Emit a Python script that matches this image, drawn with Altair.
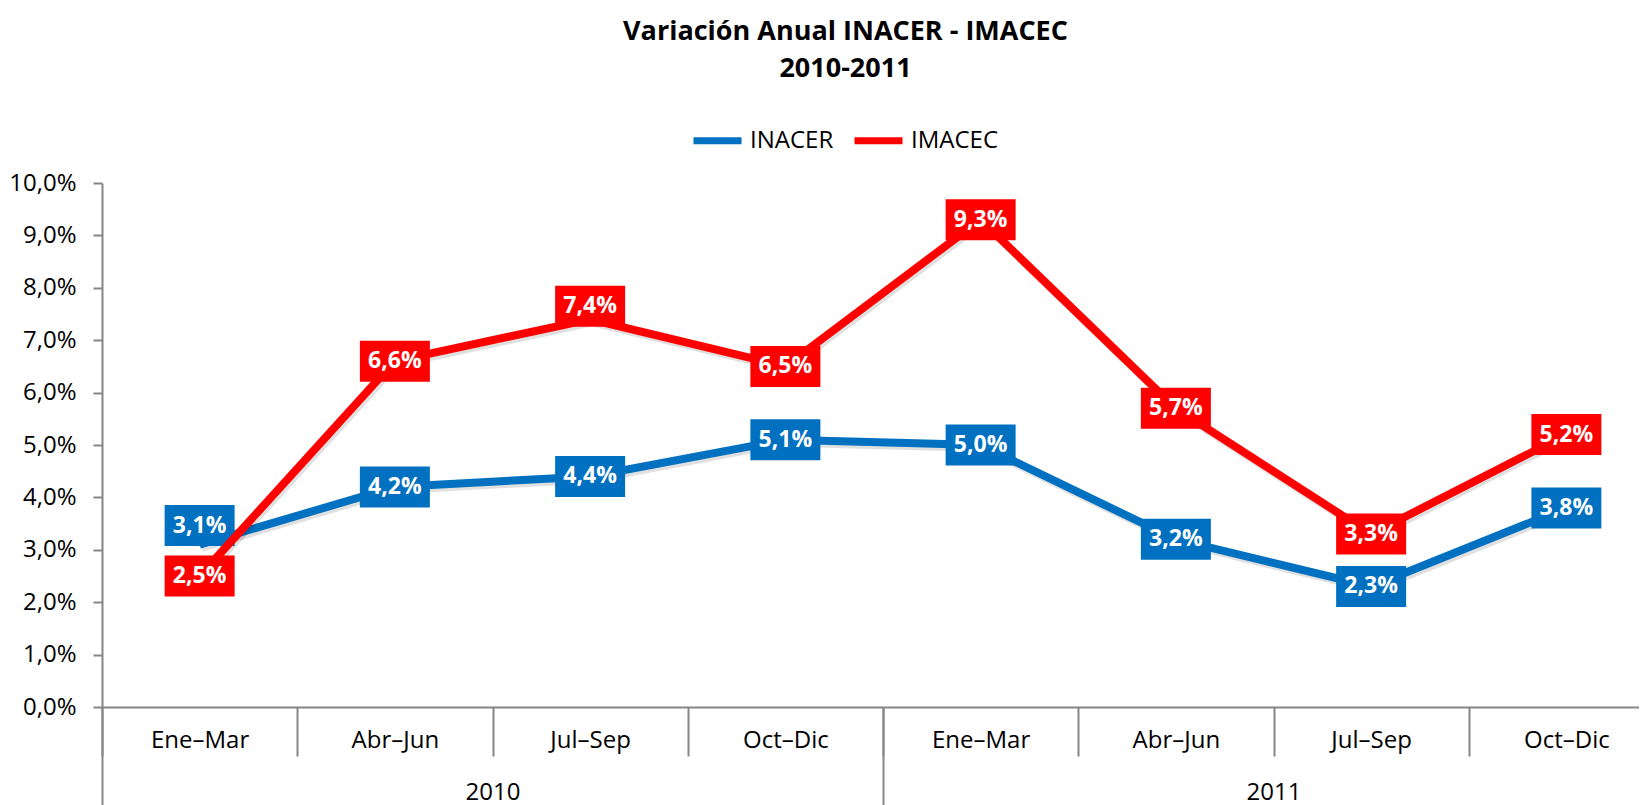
import altair as alt
import pandas as pd

# ---------------- data ----------------
quarters = ["Ene–Mar", "Abr–Jun", "Jul–Sep", "Oct–Dic",
            "Ene–Mar", "Abr–Jun", "Jul–Sep", "Oct–Dic"]
years = ["2010", "2010", "2010", "2010", "2011", "2011", "2011", "2011"]
year_list = ["2010", "2011"]
inacer = [3.1, 4.2, 4.4, 5.1, 5.0, 3.2, 2.3, 3.8]
imacec = [2.5, 6.6, 7.4, 6.5, 9.3, 5.7, 3.3, 5.2]
series_names = ["INACER", "IMACEC"]
series_colors = ["#0070C0", "#FF0000"]
y_ticks = [0, 1, 2, 3, 4, 5, 6, 7, 8, 9, 10]

keys = [f"{y} {q}" for y, q in zip(years, quarters)]
rows = []
for name, vals in zip(series_names, [inacer, imacec]):
    for k, yr, q, v in zip(keys, years, quarters, vals):
        rows.append(dict(key=k, year=yr, quarter=q, series=name, value=v,
                         label=f"{v:.1f}".replace(".", ",") + "%"))
df = pd.DataFrame(rows)

# ---------------- layout ----------------
W, H = 1537, 524
XR = 1562
GRAY = "#868686"
FONT = "Open Sans"
BOX = "M-1,-0.5857L1,-0.5857L1,0.5857L-1,0.5857Z"

# label nudges (series, key) -> pixel dy
nudges = {("INACER", "2010 Ene–Mar"): -19, ("IMACEC", "2010 Jul–Sep"): -13}

x_enc = alt.X(
    "key:N",
    bandPosition=0.5,
    scale=alt.Scale(type="band", domain=keys, range=[0, XR], paddingInner=0, paddingOuter=0),
    axis=alt.Axis(
        orient="bottom", title=None, tickBand="extent", tickSize=49, tickWidth=2,
        tickColor=GRAY, domainColor=GRAY, domainWidth=2, grid=False,
        labelExpr="split(datum.label, ' ')[1]", labelFont=FONT, labelFontSize=24,
        labelColor="black", labelPadding=-16, labelBaseline="middle", labelAngle=0,
        labelOverlap=False,
    ),
)
y_enc = alt.Y(
    "value:Q",
    scale=alt.Scale(domain=[0, 10], nice=False, zero=True),
    axis=alt.Axis(
        values=y_ticks, title=None, grid=False, tickSize=9, tickWidth=2, tickColor=GRAY,
        domainColor=GRAY, domainWidth=2, labelFont=FONT, labelFontSize=24,
        labelColor="black", labelPadding=17,
        labelExpr="replace(format(datum.value, '.1f'), '.', ',') + '%'",
    ),
)
color_enc = alt.Color(
    "series:N",
    scale=alt.Scale(domain=series_names, range=series_colors),
    legend=alt.Legend(
        orient="none", legendX=588, legendY=-70, direction="horizontal", title=None,
        symbolType="stroke", symbolStrokeWidth=7, symbolSize=2304,
        labelFont=FONT, labelFontSize=24, labelColor="black", labelOffset=5,
        columnPadding=6,
    ),
)

base = alt.Chart(df)
layers = []
for name, col in zip(series_names, series_colors):
    s = base.transform_filter(alt.datum.series == name)
    layers.append(
        s.mark_line(strokeWidth=8, color="#000000", opacity=0.12, xOffset=2, yOffset=3)
        .encode(x=x_enc, y=y_enc, detail="series:N")
    )
    layers.append(s.mark_line(strokeWidth=8).encode(x=x_enc, y=y_enc, color=color_enc))
    nudged = [k for (sn, k) in nudges if sn == name]
    plain = s.transform_filter(~alt.FieldOneOfPredicate(field="key", oneOf=nudged)) if nudged else s
    layers.append(
        plain.mark_point(shape=BOX, size=4900, filled=True, opacity=1, color=col, strokeWidth=0)
        .encode(x=x_enc, y=y_enc)
    )
    layers.append(
        plain.mark_text(font=FONT, fontWeight="bold", fontSize=23, color="white",
                        baseline="middle", align="center")
        .encode(x=x_enc, y=y_enc, text="label:N")
    )
    for k in nudged:
        dy = nudges[(name, k)]
        one = s.transform_filter(alt.datum.key == k)
        layers.append(
            one.mark_point(shape=BOX, size=4900, filled=True, opacity=1, color=col,
                           strokeWidth=0, yOffset=dy)
            .encode(x=x_enc, y=y_enc)
        )
        layers.append(
            one.mark_text(font=FONT, fontWeight="bold", fontSize=23, color="white",
                          baseline="middle", align="center", dy=dy)
            .encode(x=x_enc, y=y_enc, text="label:N")
        )

main = alt.layer(*layers)

year_layer = alt.Chart(df).mark_point(opacity=0).encode(
    x=alt.X(
        "year:N",
        scale=alt.Scale(type="band", domain=year_list, range=[0, XR], paddingInner=0, paddingOuter=0),
        axis=alt.Axis(
            orient="bottom", title=None, tickBand="extent", tickSize=110, tickWidth=2,
            tickColor=GRAY, domain=False, grid=False, labelFont=FONT, labelFontSize=24,
            labelColor="black", labelPadding=-25, labelBaseline="middle", labelAngle=0,
            labelOverlap=False,
        ),
    ),
    y=alt.Y("value:Q"),
)

chart = (
    alt.layer(main, year_layer)
    .resolve_scale(x="independent")
    .properties(
        width=W,
        height=H,
        autosize=alt.AutoSizeParams(type="none"),
        padding={"left": 94, "top": 175, "right": 0, "bottom": 98},
        background="white",
        title=alt.TitleParams(
            text=["Variación Anual INACER - IMACEC", "2010-2011"],
            font=FONT, fontSize=27, fontWeight="bold", color="black",
            anchor="middle", offset=30, lineHeight=37, dx=-25,
        ),
    )
    .configure_view(stroke=None)
)

chart.save("out.html", embed_options={"renderer": "svg", "actions": False})
